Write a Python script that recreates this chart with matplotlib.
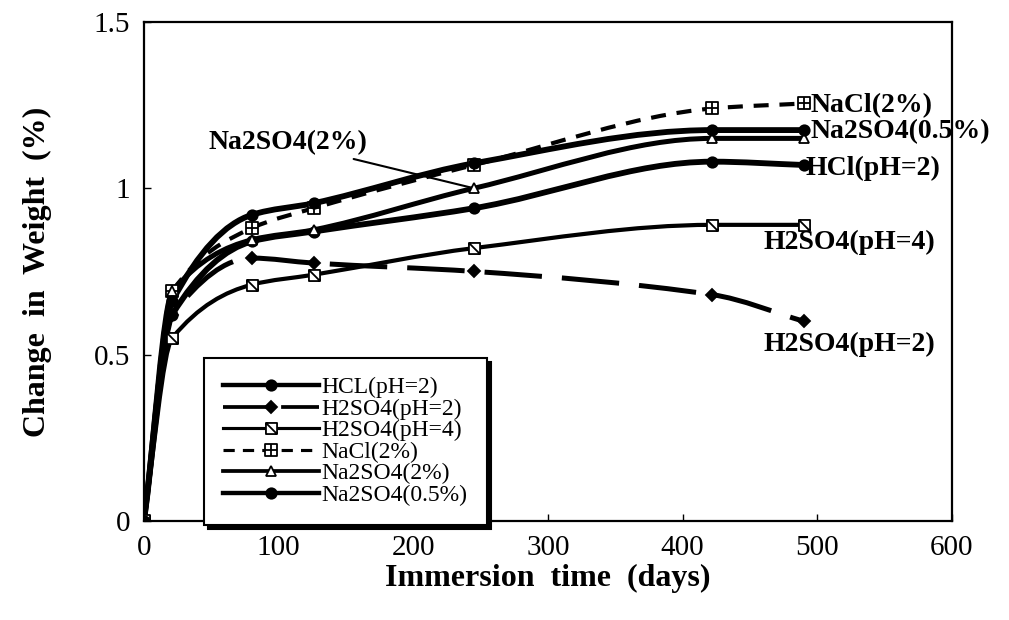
import matplotlib
matplotlib.use('Agg')
import matplotlib.pyplot as plt
import numpy as np
from matplotlib.path import Path
from matplotlib.patches import PathPatch
from matplotlib.lines import Line2D

# immersion time (days) and weight change (%)
days = [0, 21, 80, 126, 245, 422, 490]
hcl_ph2 = [0, 0.62, 0.84, 0.87, 0.94, 1.08, 1.07]
h2so4_ph2 = [0, 0.62, 0.79, 0.775, 0.75, 0.68, 0.60]
h2so4_ph4 = [0, 0.55, 0.71, 0.74, 0.82, 0.89, 0.89]
nacl_2 = [0, 0.69, 0.88, 0.94, 1.07, 1.24, 1.255]
na2so4_2 = [0, 0.69, 0.845, 0.875, 1.00, 1.15, 1.15]
na2so4_05 = [0, 0.66, 0.92, 0.955, 1.075, 1.175, 1.175]

legend_names = ['HCL(pH=2)', 'H2SO4(pH=2)', 'H2SO4(pH=4)', 'NaCl(2%)',
                'Na2SO4(2%)', 'Na2SO4(0.5%)']

plt.rcParams['font.family'] = ['Liberation Serif', 'DejaVu Serif']

# square with a cross / square with a slash, as marker shapes
box_plus = Path([(-1, -1), (1, -1), (1, 1), (-1, 1), (-1, -1),
                 (0, -1), (0, 1), (-1, 0), (1, 0)],
                [Path.MOVETO, Path.LINETO, Path.LINETO, Path.LINETO, Path.CLOSEPOLY,
                 Path.MOVETO, Path.LINETO, Path.MOVETO, Path.LINETO])
box_slash = Path([(-1, -1), (1, -1), (1, 1), (-1, 1), (-1, -1),
                  (-1, 1), (1, -1)],
                 [Path.MOVETO, Path.LINETO, Path.LINETO, Path.LINETO, Path.CLOSEPOLY,
                  Path.MOVETO, Path.LINETO])


def smooth_path(x, y):
    # smoothed line through the data points (monotone bezier, no overshoot)
    x = np.asarray(x, float)
    y = np.asarray(y, float)
    n = len(x)
    d = np.diff(y) / np.diff(x)
    m = np.zeros(n)
    m[0] = d[0]
    m[-1] = d[-1]
    for i in range(1, n - 1):
        if d[i - 1] * d[i] > 0:
            m[i] = 2.0 / (1.0 / d[i - 1] + 1.0 / d[i])
        else:
            m[i] = 0.0
    verts = [(x[0], y[0])]
    codes = [Path.MOVETO]
    for i in range(n - 1):
        h = (x[i + 1] - x[i]) / 3.0
        verts += [(x[i] + h, y[i] + m[i] * h),
                  (x[i + 1] - h, y[i + 1] - m[i + 1] * h),
                  (x[i + 1], y[i + 1])]
        codes += [Path.CURVE4] * 3
    return Path(verts, codes)


series = [
    (hcl_ph2, dict(lw=4.2, ls='-', marker='o', ms=7.5, mfc='black')),
    (h2so4_ph2, dict(lw=3.6, ls=(0, (11.5, 4.0)), marker='D', ms=6.5, mfc='black')),
    (h2so4_ph4, dict(lw=3.0, ls='-', marker=box_slash, ms=8, mfc='white')),
    (nacl_2, dict(lw=3.0, ls=(0, (3.6, 2.6)), marker=box_plus, ms=8, mfc='white')),
    (na2so4_2, dict(lw=3.6, ls='-', marker='^', ms=7, mfc='white')),
    (na2so4_05, dict(lw=4.2, ls='-', marker='o', ms=7.5, mfc='black')),
]

fig = plt.figure(figsize=(10.09, 6.2), dpi=100)
ax = fig.add_axes([0.1427, 0.160, 0.8008, 0.8045])

handles = []
for vals, st in series:
    patch = PathPatch(smooth_path(days, vals), fill=False, edgecolor='black',
                      lw=st['lw'], linestyle=st['ls'], capstyle='butt', zorder=2)
    ax.add_patch(patch)
    ax.plot(days, vals, linestyle='none', marker=st['marker'], ms=st['ms'],
            mfc=st['mfc'], mec='black', mew=1.3, zorder=3)
    handles.append(Line2D([], [], color='black', lw=st['lw'] * 0.75, linestyle=st['ls'],
                          marker=st['marker'], ms=st['ms'], mfc=st['mfc'],
                          mec='black', mew=1.3))

ax.set_xlim(0, 600)
ax.set_ylim(0, 1.5)
ax.set_xticks([0, 100, 200, 300, 400, 500, 600])
ax.set_yticks([0, 0.5, 1, 1.5])
ax.set_yticklabels(['0', '0.5', '1', '1.5'])
ax.tick_params(direction='in', length=5, width=1, labelsize=21, pad=10)
for s in ax.spines.values():
    s.set_linewidth(1.6)

ax.set_xlabel('Immersion  time  (days)', fontsize=23, fontweight='bold', labelpad=2)
ax.set_ylabel('Change  in  Weight  (%)', fontsize=23, fontweight='bold', labelpad=30)

lab = dict(fontsize=20, fontweight='bold', va='center', ha='left', clip_on=False)
ax.text(495, 1.25, 'NaCl(2%)', **lab)
ax.text(495, 1.17, 'Na2SO4(0.5%)', **lab)
ax.text(491, 1.061, 'HCl(pH=2)', **lab)
ax.text(460, 0.836, 'H2SO4(pH=4)', **lab)
ax.text(460, 0.529, 'H2SO4(pH=2)', **lab)
ax.annotate('Na2SO4(2%)', xy=(days[4], na2so4_2[4]), xytext=(166, 1.136),
            fontsize=20, fontweight='bold', ha='right', va='center',
            arrowprops=dict(arrowstyle='-', lw=1.5, color='black',
                            shrinkA=2, shrinkB=3))

leg = ax.legend(handles, legend_names, loc='lower left', bbox_to_anchor=(0.074, -0.008),
                fontsize=17, handlelength=4.1, handletextpad=0.1, labelspacing=0.0,
                borderaxespad=0, borderpad=0.8, fancybox=False, framealpha=1,
                edgecolor='black',
                shadow={'color': 'black', 'alpha': 1, 'ox': 3, 'oy': -3})
leg.get_frame().set_linewidth(1.5)

fig.savefig('out.png', dpi=100, facecolor='white')
